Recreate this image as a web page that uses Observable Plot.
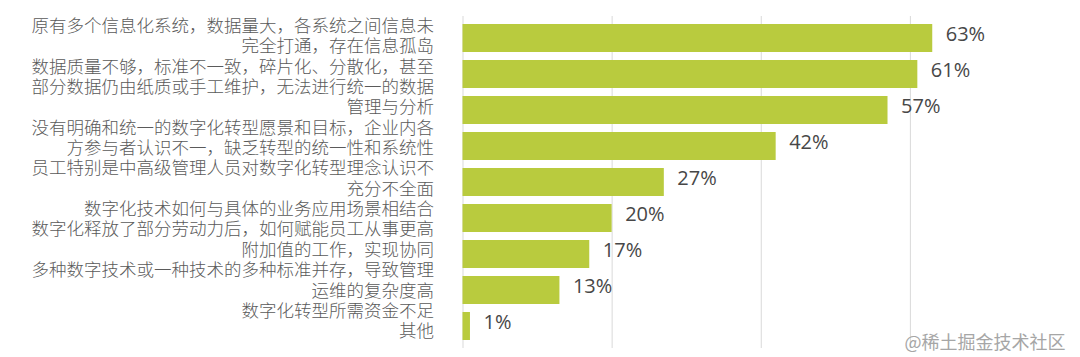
<!DOCTYPE html>
<html>
<head>
<meta charset="utf-8">
<script src="https://cdn.jsdelivr.net/npm/d3@7"></script>
<script src="https://cdn.jsdelivr.net/npm/@observablehq/plot@0.6"></script>
<style>
  html, body { margin: 0; padding: 0; background: #ffffff; }
  #chart svg { display: block; }
</style>
</head>
<body>
<div id="chart"></div>
<script>
const categories = [
  "原有多个信息化系统，数据量大，各系统之间信息未\n完全打通，存在信息孤岛",
  "数据质量不够，标准不一致，碎片化、分散化，甚至\n部分数据仍由纸质或手工维护，无法进行统一的数据\n管理与分析",
  "没有明确和统一的数字化转型愿景和目标，企业内各\n方参与者认识不一，缺乏转型的统一性和系统性",
  "员工特别是中高级管理人员对数字化转型理念认识不\n充分不全面",
  "数字化技术如何与具体的业务应用场景相结合",
  "数字化释放了部分劳动力后，如何赋能员工从事更高\n附加值的工作，实现协同",
  "多种数字技术或一种技术的多种标准并存，导致管理\n运维的复杂度高",
  "数字化转型所需资金不足",
  "其他"
];
const values = [63, 61, 57, 42, 27, 20, 17, 13, 1];
const gridTicks = [0, 20, 40, 60];
const watermark = "@稀土掘金技术社区";

const data = categories.map((c, i) => ({category: c, value: values[i], label: values[i] + "%"}));
const labelBlock = categories.join("\n");

const chart = Plot.plot({
  width: 1080,
  height: 357,
  marginLeft: 462.5,
  marginRight: 21,
  marginTop: 16,
  marginBottom: 9,
  style: {background: "#ffffff"},
  x: {domain: [0, 80], axis: null},
  y: {domain: categories, axis: null, paddingInner: 0.22, paddingOuter: 0.11},
  marks: [
    Plot.ruleX(gridTicks, {stroke: "#d9d9d9", strokeWidth: 1}),
    Plot.barX(data, {y: "category", x: "value", fill: "#b9cb3e"}),
    Plot.text(data, {
      y: "category", x: "value", text: "label",
      textAnchor: "start", dx: 13, dy: -3.5,
      fontSize: 20, fill: "#474747", fontFamily: "Open Sans"
    }),
    Plot.text([labelBlock], {
      text: d => d, frameAnchor: "top-left", textAnchor: "end", lineAnchor: "top",
      dx: -29, dy: 1, lineHeight: 1.163, fontSize: 17.5, fontWeight: 300,
      fill: "#5a5a5a", fontFamily: "Noto Sans CJK SC"
    }),
    Plot.text([watermark], {
      text: d => d, frameAnchor: "bottom-right", textAnchor: "end",
      dx: 6, dy: 0, fontSize: 18, fill: "#a6a6a6", fontFamily: "Noto Sans CJK SC"
    })
  ]
});
document.getElementById("chart").appendChild(chart);
</script>
</body>
</html>
